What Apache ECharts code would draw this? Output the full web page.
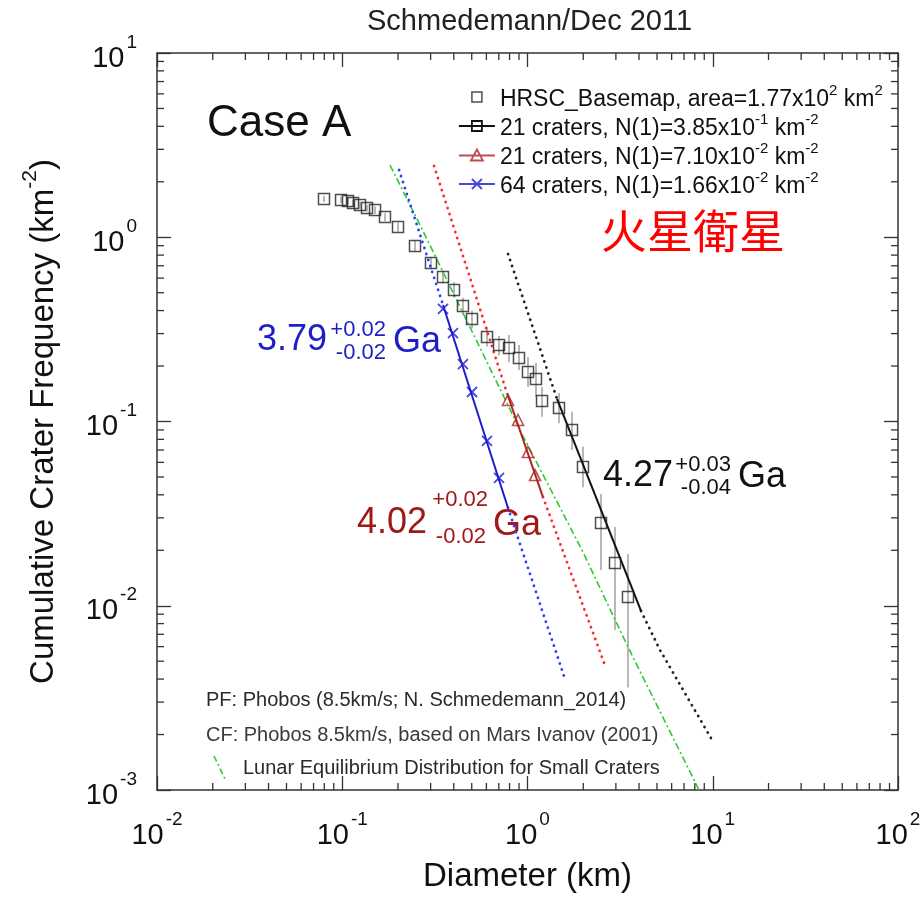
<!DOCTYPE html>
<html><head><meta charset="utf-8">
<script src="https://cdn.jsdelivr.net/npm/echarts@6/dist/echarts.min.js"></script>
<style>html,body{margin:0;padding:0;background:#fff}#c{width:922px;height:900px}</style>
</head><body><div id="c"></div>
<script>
const FONT = '"Liberation Sans", Arial, Helvetica, sans-serif';

// HRSC basemap cumulative crater frequencies (diameter km, N km^-2) with error bar bounds
const hrscDiam = [0.0797,0.0985,0.1074,0.1143,0.1247,0.136,0.1503,0.1701,0.200,0.247,0.3013,0.3499,0.401,0.4484,0.5017,0.6045,0.702,0.7948,0.8996,1.006,1.111,1.198,1.479,1.739,1.993,2.494,2.967,3.486];
const hrscFreq = [1.613,1.593,1.573,1.534,1.496,1.441,1.406,1.288,1.137,0.897,0.725,0.609,0.517,0.4235,0.360,0.2874,0.260,0.2506,0.2212,0.1857,0.1701,0.1292,0.1184,0.0899,0.0566,0.0281,0.01706,0.01116];
const hrscErrLo = [1.55,1.53,1.51,1.47,1.43,1.38,1.34,1.22,1.07,0.84,0.67,0.56,0.47,0.38,0.32,0.255,0.228,0.21,0.19,0.154,0.136,0.106,0.098,0.070,0.044,0.0156,0.0074,0.0036];
const hrscErrHi = [1.68,1.66,1.64,1.60,1.56,1.50,1.47,1.35,1.20,0.96,0.78,0.66,0.57,0.47,0.40,0.325,0.292,0.295,0.26,0.224,0.208,0.154,0.143,0.113,0.073,0.0404,0.0268,0.0191];

// red triangles and blue crosses
const redDiam = [0.785,0.889,1.006,1.098];
const redFreq = [0.1308,0.1019,0.0683,0.0512];
const blueDiam = [0.3499,0.396,0.4484,0.5017,0.6045,0.702];
const blueFreq = [0.408,0.302,0.2051,0.1446,0.0784,0.0494];

// fitted isochrons (solid = fit range, dotted = extension)
const blackFitD = [1.443, 4.10];          const blackFitN = [0.1325, 0.00937];
const blackUpD = [0.785, 1.443];          const blackUpN = [0.811, 0.1325];
const blackLowD = [4.10, 5.19, 9.91];     const blackLowN = [0.00937, 0.00575, 0.00187];
const redFitD = [0.775, 1.212];           const redFitN = [0.1428, 0.0389];
const redUpD = [0.313, 0.775];            const redUpN = [2.436, 0.1428];
const redLowD = [1.212, 2.653];           const redLowN = [0.0389, 0.00459];
const blueFitD = [0.3499, 0.785];         const blueFitN = [0.429, 0.0339];
const blueUpD = [0.2025, 0.3499];         const blueUpN = [2.317, 0.429];
const blueLowD = [0.785, 1.574];          const blueLowN = [0.0339, 0.004156];
// lunar equilibrium distribution
const greenD = [0.181, 0.2729, 0.9456, 1.993, 3.486, 8.43];
const greenN = [2.466, 1.081, 0.0834, 0.01957, 0.00597, 0.001];

// axes
const xMin = 0.01, xMax = 100, yMin = 0.001, yMax = 10;
const xDecades = [0.01, 0.1, 1, 10];
const yDecades = [0.001, 0.01, 0.1, 1];
const minorMult = [2,3,4,5,6,7,8,9];

const seriesNames = [
  'HRSC_Basemap, area=1.77x10^2 km^2',
  '21 craters, N(1)=3.85x10^-1 km^-2',
  '21 craters, N(1)=7.10x10^-2 km^-2',
  '64 craters, N(1)=1.66x10^-2 km^-2'
];
const legendLabels = [
  '{n|HRSC_Basemap, area=1.77x10}{s|2}{n| km}{s|2}',
  '{n|21 craters, N(1)=3.85x10}{s|-1}{n| km}{s|-2}',
  '{n|21 craters, N(1)=7.10x10}{s|-2}{n| km}{s|-2}',
  '{n|64 craters, N(1)=1.66x10}{s|-2}{n| km}{s|-2}'
];

const zip = (a, b) => a.map((v, i) => [v, b[i]]);
const xMinor = [], yMinor = [];
xDecades.forEach(d => minorMult.forEach(m => xMinor.push(d * m)));
yDecades.forEach(d => minorMult.forEach(m => yMinor.push(d * m)));

const tickColor = '#333';
const tickLabel = v => '{b|10}{s|' + Math.round(Math.log10(v)) + '}';
const tickRich = {
  b: {fontSize: 29, lineHeight: 40, verticalAlign: 'bottom', fontFamily: FONT, color: '#111'},
  s: {fontSize: 19, lineHeight: 10, verticalAlign: 'top', fontFamily: FONT, color: '#111', padding: [0, 0, 0, 2]}
};

function axisBase(pos) {
  return {
    type: 'log', logBase: 10, position: pos,
    axisLine: {show: true, onZero: false, lineStyle: {color: tickColor, width: 1.5}},
    axisTick: {show: true, inside: true, length: 14, lineStyle: {color: tickColor, width: 1.3}},
    splitLine: {show: false}, minorTick: {show: false}
  };
}

const chart = echarts.init(document.getElementById('c'), null, {renderer: 'canvas'});

const dotted = (name, d, n, color) => ({
  type: 'line', name: name, data: zip(d, n), showSymbol: false, symbol: 'none', silent: true,
  lineStyle: {color: color, width: 2.8, type: [0.1, 6.2], cap: 'round'}, z: 3
});
const solid = (name, d, n, color) => ({
  type: 'line', name: name, data: zip(d, n), showSymbol: false, symbol: 'none', silent: true,
  lineStyle: {color: color, width: 2}, z: 4
});

const option = {
  animation: false,
  backgroundColor: '#fff',
  title: {
    text: 'Schmedemann/Dec 2011', left: 362, top: 2,
    textStyle: {fontSize: 29, fontWeight: 'normal', color: '#222', fontFamily: FONT}
  },
  grid: {left: 157, right: 24, top: 53, bottom: 110, containLabel: false, outerBoundsMode: 'none'},
  xAxis: [
    Object.assign(axisBase('bottom'), {
      min: xMin, max: xMax,
      axisLabel: {formatter: tickLabel, rich: tickRich, margin: 20, showMinLabel: true, showMaxLabel: true},
      name: 'Diameter (km)', nameLocation: 'middle', nameGap: 67,
      nameTextStyle: {fontSize: 33, color: '#111', fontFamily: FONT, lineHeight: 40}
    }),
    Object.assign(axisBase('top'), {min: xMin, max: xMax, axisLabel: {show: false}})
  ],
  yAxis: [
    Object.assign(axisBase('left'), {
      min: yMin, max: yMax,
      axisLabel: {formatter: tickLabel, rich: tickRich, margin: 20, showMinLabel: true, showMaxLabel: true},
      name: '{n|Cumulative Crater Frequency (km}{s|-2}{n|)}', nameLocation: 'middle', nameGap: 97, nameRotate: 90,
      nameTextStyle: {
        rich: {
          n: {fontSize: 33, lineHeight: 40, verticalAlign: 'bottom', color: '#111', fontFamily: FONT},
          s: {fontSize: 21, lineHeight: 12, verticalAlign: 'top', color: '#111', fontFamily: FONT}
        }
      }
    }),
    Object.assign(axisBase('right'), {min: yMin, max: yMax, axisLabel: {show: false}})
  ],
  legend: {
    orient: 'vertical', left: 458, top: 83, padding: 0, itemGap: 1,
    itemWidth: 36, itemHeight: 12, selectedMode: false,
    formatter: name => legendLabels[seriesNames.indexOf(name)],
    textStyle: {
      fontFamily: FONT, color: '#111',
      rich: {
        n: {fontSize: 23, lineHeight: 28, verticalAlign: 'bottom', color: '#111', fontFamily: FONT},
        s: {fontSize: 15, lineHeight: 14, verticalAlign: 'top', color: '#111', fontFamily: FONT}
      }
    },
    data: [
      {name: seriesNames[0], icon: 'path://M0,0M36,12M13,1H23V11H13Z',
       itemStyle: {color: 'transparent', borderColor: '#222', borderWidth: 1.5}},
      {name: seriesNames[1], icon: 'path://M0,6H36M13,1H23V11H13Z',
       itemStyle: {color: 'transparent', borderColor: '#111', borderWidth: 1.8}},
      {name: seriesNames[2], icon: 'path://M0,6H36M18,0L24,11H12Z',
       itemStyle: {color: 'transparent', borderColor: '#b22222', borderWidth: 1.8}},
      {name: seriesNames[3], icon: 'path://M0,6H36M13,1L23,11M23,1L13,11',
       itemStyle: {color: 'transparent', borderColor: '#1c1cd0', borderWidth: 1.8}}
    ]
  },
  series: [
    // minor ticks on x (bottom & top)
    {
      type: 'custom', silent: true, z: 10, clip: false,
      data: xMinor.map(v => [v, yMin]),
      renderItem: (p, api) => {
        const b = api.coord([api.value(0), yMin]);
        const t = api.coord([api.value(0), yMax]);
        return {type: 'group', children: [
          {type: 'line', shape: {x1: b[0], y1: b[1], x2: b[0], y2: b[1] - 7}, style: {stroke: tickColor, lineWidth: 1.3}},
          {type: 'line', shape: {x1: t[0], y1: t[1], x2: t[0], y2: t[1] + 7}, style: {stroke: tickColor, lineWidth: 1.3}}
        ]};
      }
    },
    // minor ticks on y (left & right)
    {
      type: 'custom', silent: true, z: 10, clip: false,
      data: yMinor.map(v => [xMin, v]),
      renderItem: (p, api) => {
        const l = api.coord([xMin, api.value(1)]);
        const r = api.coord([xMax, api.value(1)]);
        return {type: 'group', children: [
          {type: 'line', shape: {x1: l[0], y1: l[1], x2: l[0] + 7, y2: l[1]}, style: {stroke: tickColor, lineWidth: 1.3}},
          {type: 'line', shape: {x1: r[0], y1: r[1], x2: r[0] - 7, y2: r[1]}, style: {stroke: tickColor, lineWidth: 1.3}}
        ]};
      }
    },
    // error bars
    {
      type: 'custom', silent: true, z: 1,
      data: hrscDiam.map((d, i) => [d, hrscErrLo[i], hrscErrHi[i]]),
      encode: {x: 0, y: [1, 2]},
      renderItem: (p, api) => {
        const a = api.coord([api.value(0), api.value(1)]);
        const b = api.coord([api.value(0), api.value(2)]);
        return {type: 'line', shape: {x1: a[0], y1: a[1], x2: b[0], y2: b[1]}, style: {stroke: '#b8b8b8', lineWidth: 2}};
      }
    },
    // green lunar equilibrium
    {
      type: 'line', name: 'Lunar Equilibrium', data: zip(greenD, greenN), showSymbol: false, symbol: 'none', silent: true,
      lineStyle: {color: '#2ccc2c', width: 1.6, type: [7, 3, 2, 3]}, z: 2
    },
    dotted('blackUp', blackUpD, blackUpN, '#222'),
    dotted('blackLow', blackLowD, blackLowN, '#222'),
    dotted('redUp', redUpD, redUpN, '#ff2a2a'),
    dotted('redLow', redLowD, redLowN, '#ff2a2a'),
    dotted('blueUp', blueUpD, blueUpN, '#2a3cff'),
    dotted('blueLow', blueLowD, blueLowN, '#2a3cff'),
    solid(seriesNames[1], blackFitD, blackFitN, '#111'),
    solid('redFit', redFitD, redFitN, '#b02525'),
    solid('blueFit', blueFitD, blueFitN, '#1c1cd0'),
    {
      type: 'scatter', name: seriesNames[0], data: zip(hrscDiam, hrscFreq),
      symbol: 'rect', symbolSize: 11, silent: true, z: 6,
      itemStyle: {color: 'transparent', borderColor: '#222', borderWidth: 1.5}
    },
    {
      type: 'scatter', name: seriesNames[2], data: zip(redDiam, redFreq),
      symbol: 'triangle', symbolSize: 11, silent: true, z: 6,
      itemStyle: {color: 'transparent', borderColor: '#b22222', borderWidth: 1.6}
    },
    {
      type: 'scatter', name: seriesNames[3], data: zip(blueDiam, blueFreq),
      symbol: 'path://M0,0L10,10M10,0L0,10', symbolSize: 10, silent: true, z: 6,
      itemStyle: {color: 'transparent', borderColor: '#1c1cd0', borderWidth: 1.8}
    }
  ],
  graphic: [
    {type: 'text', x: 207, y: 124, silent: true, style: {text: 'Case A', fontSize: 44, fontFamily: FONT, fill: '#111', verticalAlign: 'middle'}},
    {type: 'text', x: 601, y: 231, silent: true, style: {text: '火星衛星', fontSize: 46, fontFamily: '"Noto Sans CJK JP", "Noto Sans CJK TC", sans-serif', fill: '#ff0000', verticalAlign: 'middle'}},
    // blue age
    {type: 'text', x: 257, y: 340, silent: true, style: {text: '3.79', fontSize: 36, fontFamily: FONT, fill: '#1e1ec8', verticalAlign: 'middle'}},
    {type: 'text', x: 386, y: 330, silent: true, style: {text: '+0.02', fontSize: 22, fontFamily: FONT, fill: '#1e1ec8', verticalAlign: 'middle', align: 'right'}},
    {type: 'text', x: 386, y: 353, silent: true, style: {text: '-0.02', fontSize: 22, fontFamily: FONT, fill: '#1e1ec8', verticalAlign: 'middle', align: 'right'}},
    {type: 'text', x: 393, y: 342, silent: true, style: {text: 'Ga', fontSize: 36, fontFamily: FONT, fill: '#1e1ec8', verticalAlign: 'middle'}},
    // red age
    {type: 'text', x: 357, y: 523, silent: true, style: {text: '4.02', fontSize: 36, fontFamily: FONT, fill: '#a01818', verticalAlign: 'middle'}},
    {type: 'text', x: 488, y: 500, silent: true, style: {text: '+0.02', fontSize: 22, fontFamily: FONT, fill: '#a01818', verticalAlign: 'middle', align: 'right'}},
    {type: 'text', x: 486, y: 537, silent: true, style: {text: '-0.02', fontSize: 22, fontFamily: FONT, fill: '#a01818', verticalAlign: 'middle', align: 'right'}},
    {type: 'text', x: 493, y: 525, silent: true, style: {text: 'Ga', fontSize: 36, fontFamily: FONT, fill: '#a01818', verticalAlign: 'middle'}},
    // black age
    {type: 'text', x: 603, y: 476, silent: true, style: {text: '4.27', fontSize: 36, fontFamily: FONT, fill: '#111', verticalAlign: 'middle'}},
    {type: 'text', x: 731, y: 465, silent: true, style: {text: '+0.03', fontSize: 22, fontFamily: FONT, fill: '#111', verticalAlign: 'middle', align: 'right'}},
    {type: 'text', x: 731, y: 488, silent: true, style: {text: '-0.04', fontSize: 22, fontFamily: FONT, fill: '#111', verticalAlign: 'middle', align: 'right'}},
    {type: 'text', x: 738, y: 477, silent: true, style: {text: 'Ga', fontSize: 36, fontFamily: FONT, fill: '#111', verticalAlign: 'middle'}},
    // production / chronology function notes
    {type: 'text', x: 206, y: 700, silent: true, style: {text: 'PF: Phobos (8.5km/s; N. Schmedemann_2014)', fontSize: 20, fontFamily: FONT, fill: '#2a2a2a', verticalAlign: 'middle'}},
    {type: 'text', x: 206, y: 735, silent: true, style: {text: 'CF: Phobos 8.5km/s, based on Mars Ivanov (2001)', fontSize: 20, fontFamily: FONT, fill: '#3a3a3a', verticalAlign: 'middle'}},
    {type: 'line', silent: true, shape: {x1: 214, y1: 756, x2: 226, y2: 781}, style: {stroke: '#2ccc2c', lineWidth: 1.6, lineDash: [6, 3, 2, 3]}},
    {type: 'text', x: 243, y: 768, silent: true, style: {text: 'Lunar Equilibrium Distribution for Small Craters', fontSize: 20, fontFamily: FONT, fill: '#2a2a2a', verticalAlign: 'middle'}}
  ]
};
chart.setOption(option);
</script>
</body></html>
